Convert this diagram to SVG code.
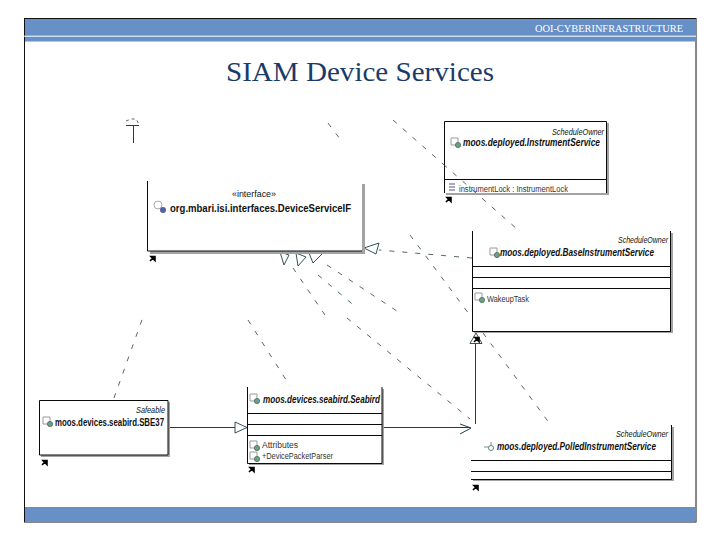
<svg xmlns="http://www.w3.org/2000/svg" width="720" height="540" viewBox="0 0 720 540">
<defs>
<style>
.bar{fill:#6690c6}
.box{fill:#fff}
.sh{fill:#a3a3a3}
.ln{stroke:#0a0a0a;stroke-width:1;fill:none}
.conn{stroke:#1f4048;stroke-width:1;fill:none}
.dash{stroke:#2a3f44;stroke-width:.8;fill:none;stroke-dasharray:5 8}
.head{stroke:#1f4048;stroke-width:.9;fill:#fff}
text{font-family:"Liberation Sans",Arial,sans-serif;fill:#111}
.nm{font-size:10px;font-weight:bold}
.it{font-style:italic}
.st{font-size:8.500px}
.mb{font-size:8.500px;fill:#333}
</style>
<g id="ic"><path d="M0 0H7V7" fill="none" stroke="#999" stroke-width="1"/><path d="M0 0V7H7" fill="#fff" stroke="#999" stroke-width="1"/><circle cx="7" cy="7" r="2.600" fill="#6f9f84" stroke="#3f6f58" stroke-width=".8"/></g>
<path id="jump" d="M0 6L3.500 2.500M1 1.500H5V5.500Z" stroke="#000" stroke-width="1.600" fill="#000"/>
</defs>
<rect width="720" height="540" fill="#fff"/>
<g id="slide-frame">
<rect x="24.500" y="18.500" width="671.500" height="503.500" fill="#fff" stroke="#111" stroke-width="1"/>
<rect class="bar" x="25" y="19" width="671" height="22.500"/>
<rect x="24" y="35.700" width="672" height="1" fill="#fff"/>
<rect class="bar" x="25" y="507" width="671" height="14.500"/>
<text x="683" y="32" text-anchor="end" style="font-family:'Liberation Serif',serif;fill:#fff;font-size:9.500px" textLength="148" lengthAdjust="spacingAndGlyphs">OOI-CYBERINFRASTRUCTURE</text>
<text x="360" y="81" text-anchor="middle" style="font-family:'Liberation Serif',serif;fill:#1c3a68;font-size:27px" textLength="268" lengthAdjust="spacingAndGlyphs">SIAM Device Services</text>
</g>
<g id="connectors">
<path class="conn" d="M133.500 125V143"/>
<path class="conn" d="M126 125.500H139"/>
<path class="dash" style="stroke-dasharray:3 3" d="M126 121L131 119H136L139 124"/>
<path class="conn" d="M168 427.500H235"/>
<path class="head" d="M235 422L247 427.500L235 433Z"/>
<path class="conn" d="M382 427.500H470"/>
<path class="conn" d="M460 424L471 428L460 434"/>
<path class="conn" d="M475.500 424V343"/>
<path class="head" d="M470 343.500H482L476 333Z"/>
<path class="dash" d="M114 398L143 317"/>
<path class="dash" d="M248 320L290 386"/>
<path class="dash" d="M393 120L443 164"/>
<path class="dash" d="M328 123L343 143"/>
<path class="dash" d="M410 235L472 318"/>
<path class="dash" d="M483 333L550 424"/>
<path class="dash" d="M472 258L379 250"/>
<path class="dash" d="M327 265L403 315"/>
<path class="dash" d="M318 275L357 308"/>
<path class="dash" d="M347 318L470 419"/>
<path class="dash" d="M293 268L325 315"/>
<path class="head" d="M364 248L379 243L376 254Z"/>
<path class="head" d="M280 252L289 255L284 265Z"/>
<path class="head" d="M296 253L306 257L298 266Z"/>
<path class="head" d="M309 253H323L313 263Z"/>
</g>
<g id="node-device-service-if">
<rect class="sh" x="150" y="184" width="215" height="70"/>
<rect class="box" x="147" y="181" width="215" height="70"/>
<path class="ln" d="M147.500 181V251H362"/>
<text class="st" x="232" y="197" textLength="44" lengthAdjust="spacingAndGlyphs">«interface»</text>
<circle cx="158" cy="205" r="4" fill="#fff" stroke="#aaa"/><circle cx="163" cy="210" r="3" fill="#5560a0"/>
<text class="nm" x="170" y="212" textLength="181" lengthAdjust="spacingAndGlyphs">org.mbari.isi.interfaces.DeviceServiceIF</text>
<use href="#jump" x="150" y="255"/>
</g>
<g id="node-instrument-service">
<rect class="sh" x="446" y="123" width="163" height="72"/>
<rect class="box" x="444" y="121" width="163" height="72"/>
<path class="ln" d="M444.500 193V121.500H606.500V193M444 179.500H607"/>
<text class="st it" x="604" y="135" text-anchor="end" textLength="52" lengthAdjust="spacingAndGlyphs">ScheduleOwner</text>
<use href="#ic" x="451" y="138"/>
<text class="nm it" x="463" y="146" textLength="137" lengthAdjust="spacingAndGlyphs">moos.deployed.InstrumentService</text>
<text class="mb" x="459" y="192" textLength="109" lengthAdjust="spacingAndGlyphs">instrumentLock : InstrumentLock</text>
<path d="M449 184H455M449 187H455M449 190H455" stroke="#557" stroke-width="1.200"/>
<use href="#jump" x="446" y="196"/>
</g>
<path class="dash" d="M443 164L517 229"/>
<g id="node-base-instrument-service">
<rect class="sh" x="474" y="233" width="199" height="100"/>
<rect class="box" x="472" y="231" width="199" height="100"/>
<path class="ln" d="M472.500 231V331.500H670.500V231M472 266.500H671M472 277.500H671M472 288.500H671"/>
<text class="st it" x="668" y="243" text-anchor="end" textLength="50" lengthAdjust="spacingAndGlyphs">ScheduleOwner</text>
<use href="#ic" x="490" y="248"/>
<text class="nm it" x="500" y="256" textLength="154" lengthAdjust="spacingAndGlyphs">moos.deployed.BaseInstrumentService</text>
<use href="#ic" x="475" y="293"/>
<text class="mb" x="487" y="302" textLength="42" lengthAdjust="spacingAndGlyphs">WakeupTask</text>
<use href="#jump" x="474" y="336"/>
</g>
<g id="node-sbe37">
<rect class="sh" x="41" y="402" width="129" height="55"/>
<rect class="box" x="39" y="400" width="129" height="55"/>
<path class="ln" d="M39.500 400.500H168V455H39.500Z"/>
<text class="st it" x="165" y="413" text-anchor="end" textLength="29" lengthAdjust="spacingAndGlyphs">Safeable</text>
<use href="#ic" x="43" y="417"/>
<text class="nm" x="55" y="426" textLength="109" lengthAdjust="spacingAndGlyphs">moos.devices.seabird.SBE37</text>
<use href="#jump" x="42" y="459"/>
</g>
<g id="node-seabird">
<rect class="sh" x="249" y="389" width="135" height="76"/>
<rect class="box" x="247" y="387" width="135" height="76"/>
<path class="ln" d="M247.500 387V463.500H382V387M247 413.500H382M247 424.500H382M247 435.500H382"/>
<use href="#ic" x="250" y="394"/>
<text class="nm it" x="263" y="403" textLength="117" lengthAdjust="spacingAndGlyphs">moos.devices.seabird.Seabird</text>
<use href="#ic" x="250" y="441"/>
<text class="mb" x="262" y="448" textLength="36" lengthAdjust="spacingAndGlyphs">Attributes</text>
<use href="#ic" x="250" y="452"/>
<text class="mb" x="262" y="459" textLength="71" lengthAdjust="spacingAndGlyphs">+DevicePacketParser</text>
<use href="#jump" x="249" y="466"/>
</g>
<g id="node-polled-instrument-service">
<rect class="sh" x="473" y="427" width="201" height="54"/>
<rect class="box" x="471" y="425" width="201" height="54"/>
<path class="ln" d="M671.500 425V479.500H471M471 460.500H672M471 471.500H672"/>
<text class="st it" x="668" y="437" text-anchor="end" textLength="52" lengthAdjust="spacingAndGlyphs">ScheduleOwner</text>
<path d="M484 447H491M491 442V450" stroke="#888" fill="none"/><circle cx="491" cy="448" r="2.500" fill="#fff" stroke="#587"/>
<text class="nm it" x="497" y="450" textLength="159" lengthAdjust="spacingAndGlyphs">moos.deployed.PolledInstrumentService</text>
<use href="#jump" x="473" y="484"/>
</g>
</svg>
